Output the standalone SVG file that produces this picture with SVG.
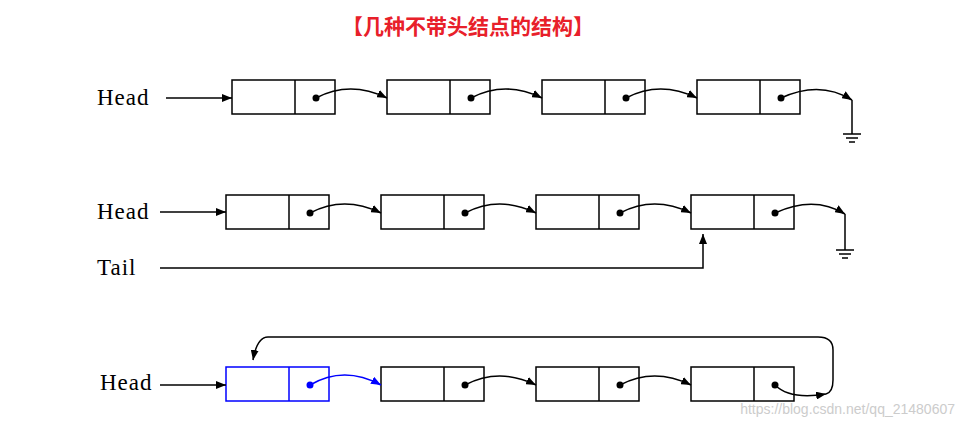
<svg xmlns="http://www.w3.org/2000/svg" width="970" height="429" viewBox="0 0 970 429">
<style>
.b{fill:#fff;stroke:#000;stroke-width:1.5}
.bb{fill:#fff;stroke:#00f;stroke-width:1.5}
.c{fill:none;stroke:#000;stroke-width:1.5}
.l{font-family:"Liberation Serif",serif;font-size:23px;fill:#000;letter-spacing:1px}
.t{font-family:"Noto Sans CJK SC",sans-serif;font-size:21px;font-weight:bold;fill:#e8202a}
</style>
<defs>
<marker id="a" markerWidth="10" markerHeight="8" refX="10" refY="4" orient="auto" markerUnits="userSpaceOnUse"><path d="M0,0L10,4L0,8z" fill="#000"/></marker>
<marker id="ab" markerWidth="10" markerHeight="8" refX="10" refY="4" orient="auto" markerUnits="userSpaceOnUse"><path d="M0,0L10,4L0,8z" fill="#00f"/></marker>
</defs>
<rect width="970" height="429" fill="#fff"/>
<text class="t" x="468" y="34" text-anchor="middle">【几种不带头结点的结构】</text>
<g id="labels">
<text class="l" x="97" y="105">Head</text>
<text class="l" x="97" y="219">Head</text>
<text class="l" x="97" y="275">Tail</text>
<text class="l" x="100" y="390">Head</text>
</g>
<g id="r1">
<g id="r1n1"><rect class="b" x="232" y="80" width="103" height="34"/><path class="c" d="M295 80V114"/><circle cx="316" cy="98" r="3.5"/></g>
<g id="r1n2"><rect class="b" x="387" y="80" width="103" height="34"/><path class="c" d="M450 80V114"/><circle cx="471" cy="98" r="3.5"/></g>
<g id="r1n3"><rect class="b" x="542" y="80" width="103" height="34"/><path class="c" d="M605 80V114"/><circle cx="626" cy="98" r="3.5"/></g>
<g id="r1n4"><rect class="b" x="697" y="80" width="103" height="34"/><path class="c" d="M760 80V114"/><circle cx="781" cy="98" r="3.5"/></g>
</g>
<g id="r2">
<g id="r2n1"><rect class="b" x="226" y="195" width="103" height="34"/><path class="c" d="M289 195V229"/><circle cx="310" cy="213" r="3.5"/></g>
<g id="r2n2"><rect class="b" x="381" y="195" width="103" height="34"/><path class="c" d="M444 195V229"/><circle cx="465" cy="213" r="3.5"/></g>
<g id="r2n3"><rect class="b" x="536" y="195" width="103" height="34"/><path class="c" d="M599 195V229"/><circle cx="620" cy="213" r="3.5"/></g>
<g id="r2n4"><rect class="b" x="691" y="195" width="103" height="34"/><path class="c" d="M754 195V229"/><circle cx="775" cy="213" r="3.5"/></g>
</g>
<g id="r3">
<g id="r3n1"><rect class="bb" x="226" y="367" width="103" height="34"/><path fill="none" stroke="#00f" stroke-width="1.5" d="M289 367V401"/><circle cx="310" cy="385" r="3.5" fill="#00f"/></g>
<g id="r3n2"><rect class="b" x="381" y="367" width="103" height="34"/><path class="c" d="M444 367V401"/><circle cx="465" cy="385" r="3.5"/></g>
<g id="r3n3"><rect class="b" x="536" y="367" width="103" height="34"/><path class="c" d="M599 367V401"/><circle cx="620" cy="385" r="3.5"/></g>
<g id="r3n4"><rect class="b" x="691" y="367" width="103" height="34"/><path class="c" d="M754 367V401"/><circle cx="775" cy="385" r="3.5"/></g>
</g>
<g id="connectors">
<path class="c" d="M166 98H232" marker-end="url(#a)"/>
<path class="c" d="M316 98Q350 80 387 98" marker-end="url(#a)"/>
<path class="c" d="M471 98Q505 80 542 98" marker-end="url(#a)"/>
<path class="c" d="M626 98Q660 80 697 98" marker-end="url(#a)"/>
<path class="c" d="M781 98Q820 80 852 100" marker-end="url(#a)"/>
<path class="c" d="M852 100V134M843 134H861M846 138H858M849 142H855"/>
<path class="c" d="M160 212H226" marker-end="url(#a)"/>
<path class="c" d="M310 213Q344 195 381 213" marker-end="url(#a)"/>
<path class="c" d="M465 213Q499 195 536 213" marker-end="url(#a)"/>
<path class="c" d="M620 213Q654 195 691 213" marker-end="url(#a)"/>
<path class="c" d="M775 213Q814 195 845 214" marker-end="url(#a)"/>
<path class="c" d="M845 214V250M836 250H854M839 254H851M842 258H848"/>
<path class="c" d="M160 268H703V234" marker-end="url(#a)"/>
<path class="c" d="M160 385H226" marker-end="url(#a)"/>
<path fill="none" stroke="#00f" stroke-width="1.5" d="M310 385Q344 365 381 385" marker-end="url(#ab)"/>
<path class="c" d="M465 385Q499 367 536 385" marker-end="url(#a)"/>
<path class="c" d="M620 385Q654 367 691 385" marker-end="url(#a)"/>
<path class="c" d="M775 385Q790 400 826 394" marker-end="url(#a)"/>
<path class="c" d="M826 394Q833 392 833 380V350Q833 337 818 337H268Q257 337 253 360" marker-end="url(#a)"/>
</g>
<text x="955" y="414" text-anchor="end" font-family="Liberation Sans,sans-serif" font-size="14" fill="#ccc">https://blog.csdn.net/qq_21480607</text>
</svg>
